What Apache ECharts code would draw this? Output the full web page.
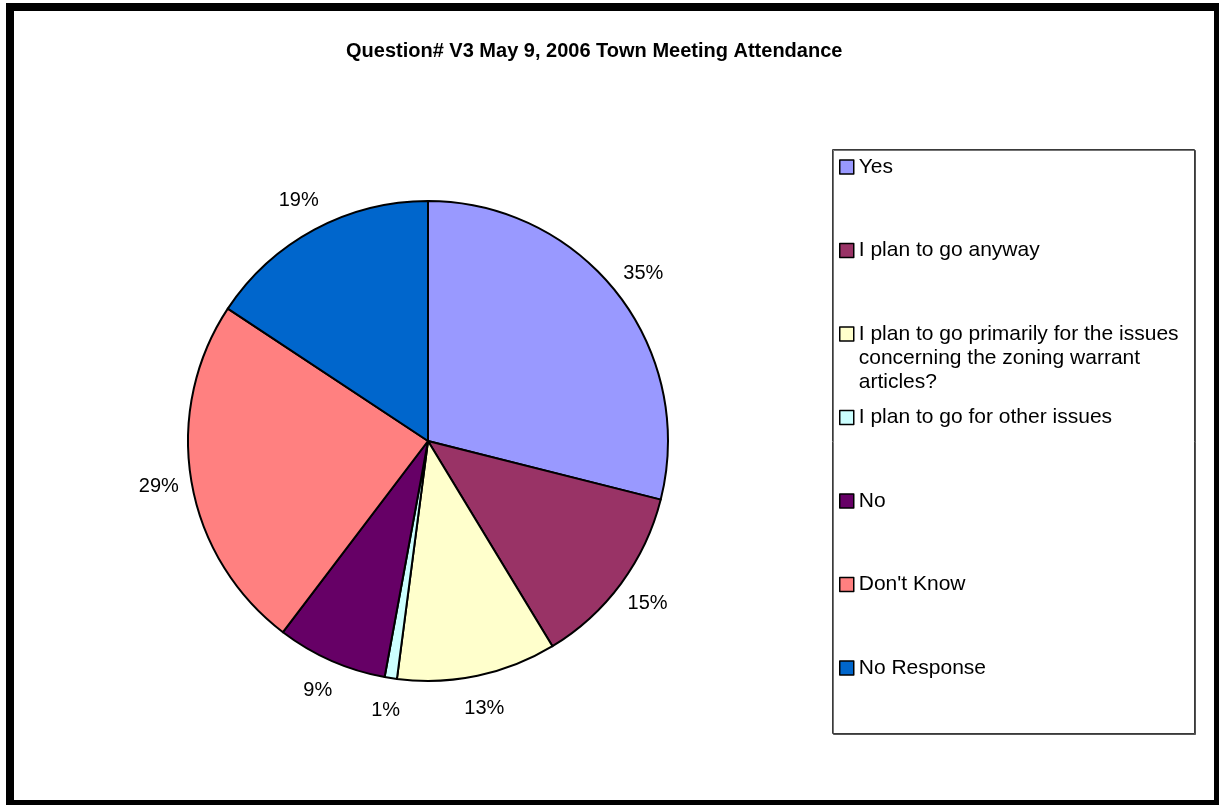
<!DOCTYPE html>
<html>
<head>
<meta charset="utf-8">
<title>Question# V3 May 9, 2006 Town Meeting Attendance</title>
<script src="https://cdn.jsdelivr.net/npm/echarts@6/dist/echarts.min.js"></script>
<style>
  html, body { margin: 0; padding: 0; background: #fff; }
  #chart { width: 1219px; height: 805px; }
</style>
</head>
<body>
<div id="chart"></div>
<script>
// Survey answers and their counts
const categories = [
  'Yes',
  'I plan to go anyway',
  'I plan to go primarily for the issues concerning the zoning warrant articles?',
  'I plan to go for other issues',
  'No',
  "Don't Know",
  'No Response'
];
const values = [35, 15, 13, 1, 9, 29, 19];
const sliceColors = ['#9999FF', '#993366', '#FFFFCC', '#CCFFFF', '#660066', '#FF8080', '#0066CC'];
const titleText = 'Question# V3 May 9, 2006 Town Meeting Attendance';

const FONT = "'Liberation Sans', Arial, sans-serif";
const LEG_FONT_SIZE = 21;
const LEG_LINE = 24;
const LEG_WRAP = 330;
const LEG_FIRST_Y = 167;     // centre of the first legend row
const LEG_PITCH = 83.5;      // spacing between legend rows

// word-wrap a legend label to the legend column width
const measureCtx = document.createElement('canvas').getContext('2d');
measureCtx.font = LEG_FONT_SIZE + 'px ' + FONT;
function wrapText(text) {
  const words = text.split(' ');
  const lines = [];
  let cur = '';
  words.forEach(w => {
    const test = cur ? cur + ' ' + w : w;
    if (cur && measureCtx.measureText(test).width > LEG_WRAP) {
      lines.push(cur);
      cur = w;
    } else {
      cur = test;
    }
  });
  if (cur) lines.push(cur);
  return lines;
}

// one legend block per entry so the rows keep an even pitch;
// wrapped entries keep their marker level with the first line
const legends = categories.map((name, i) => {
  const lines = wrapText(name);
  const extra = lines.length - 1;
  const shown = '\n'.repeat(extra) + lines.join('\n');
  const totalLines = lines.length + extra;
  const centre = LEG_FIRST_Y + i * LEG_PITCH;
  return {
    data: [name],
    orient: 'vertical',
    left: 839,
    top: centre - (totalLines * LEG_LINE) / 2,
    padding: 0,
    itemWidth: 14,
    itemHeight: 14,
    icon: 'rect',
    selectedMode: false,
    itemStyle: { borderColor: '#000', borderWidth: 1.5 },
    formatter: () => shown,
    textStyle: {
      color: '#000',
      fontSize: LEG_FONT_SIZE,
      fontFamily: FONT,
      lineHeight: LEG_LINE
    }
  };
});

const pieData = categories.map((name, i) => ({
  name: name,
  value: values[i],
  itemStyle: { color: sliceColors[i] }
}));

const chart = echarts.init(document.getElementById('chart'), null, { renderer: 'canvas' });

chart.setOption({
  animation: false,
  backgroundColor: '#fff',
  title: {
    text: titleText,
    left: 346,
    top: 41,
    padding: 0,
    textStyle: {
      color: '#000',
      fontSize: 20,
      fontWeight: 'bold',
      fontFamily: FONT
    }
  },
  legend: legends,
  graphic: [
    {
      // outer chart frame
      type: 'rect',
      z: 0,
      silent: true,
      shape: { x: 10, y: 7, width: 1208, height: 797 },
      style: { fill: 'none', stroke: '#000', lineWidth: 8 }
    },
    {
      // legend box
      type: 'rect',
      z: 0,
      silent: true,
      shape: { x: 832.5, y: 149.5, width: 362, height: 584 },
      style: {
        fill: '#fff',
        stroke: '#3a3a3a',
        lineWidth: 1,
        shadowColor: 'rgba(0,0,0,0.55)',
        shadowOffsetX: 1,
        shadowOffsetY: 1
      }
    }
  ],
  series: [
    {
      // slices
      type: 'pie',
      center: [428, 441],
      radius: 240,
      startAngle: 90,
      clockwise: true,
      silent: true,
      data: pieData,
      itemStyle: { borderColor: '#000', borderWidth: 2 },
      label: { show: false },
      labelLine: { show: false },
      emphasis: { disabled: true }
    },
    {
      // value labels around the pie
      type: 'pie',
      center: [428, 441],
      radius: [250, 290],
      startAngle: 90,
      clockwise: true,
      silent: true,
      data: categories.map((name, i) => ({ name: name, value: values[i] })),
      itemStyle: { color: 'transparent', borderWidth: 0 },
      label: {
        show: true,
        position: 'inside',
        formatter: '{c}%',
        color: '#000',
        fontSize: 20,
        fontFamily: FONT,
        textBorderWidth: 0
      },
      labelLine: { show: false },
      emphasis: { disabled: true }
    }
  ]
});
</script>
</body>
</html>
